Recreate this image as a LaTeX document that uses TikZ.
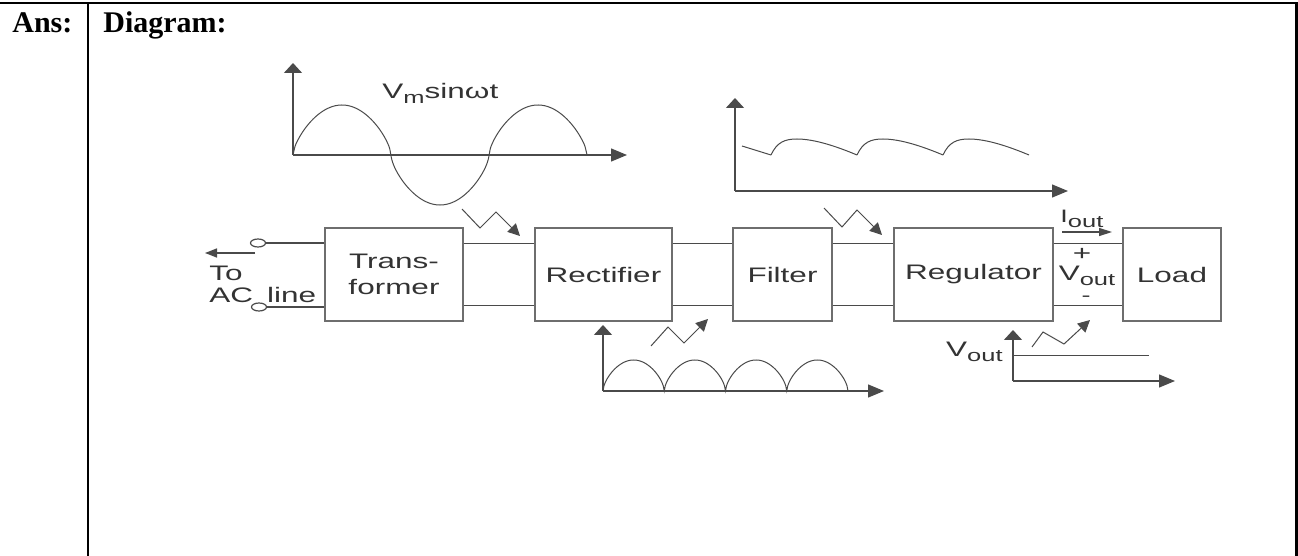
\documentclass[tikz,border=0pt]{standalone}
\usepackage{fontspec}
\setmainfont{Liberation Serif}
\newfontfamily\diagfont[FakeStretch=1.5]{Liberation Sans}
\usepackage{tikz}
\usetikzlibrary{arrows.meta,shapes.geometric}
\usepackage{xcolor}
\definecolor{boxgray}{HTML}{6E6E6E}
\definecolor{linegray}{HTML}{4A4A4A}
\definecolor{txtgray}{HTML}{333333}
\newcommand\lowsub[1]{\raisebox{-0.45ex}{\fontsize{8.5}{8.5}\selectfont #1}}

\begin{document}
\begin{tikzpicture}[x=0.5pt, y=-0.5pt, >=Stealth,
    block/.style={draw=boxgray, line width=0.9pt, minimum height=46.5pt, inner sep=0pt,
      align=center, text=txtgray, font=\diagfont\fontsize{10.5}{13}\selectfont},
    wire/.style={draw=linegray, line width=0.7pt},
    axis/.style={draw=linegray, line width=0.7pt},
    curve/.style={draw=linegray, line width=0.5pt},
    lbl/.style={inner sep=0pt, text=txtgray, font=\diagfont\fontsize{10.5}{13}\selectfont},
    term/.style={ellipse, draw=linegray, line width=0.6pt, fill=white, inner sep=0pt,
      minimum width=7.5pt, minimum height=4pt},
    htip/.style={-{Triangle[length=8pt,width=6.5pt]}},
    vtip/.style={-{Triangle[length=5pt,width=9pt]}},
    ztip/.style={-{Triangle[length=6pt,width=6pt]}}]
    \useasboundingbox (0,0) rectangle (1298,556);
    % table frame
    \draw[line width=1pt] (0,3) -- (1298,3);
    \draw[line width=1pt] (88,3) -- (88,556);
    \draw[line width=1.8pt] (1296.5,3) -- (1296.5,556);
    \node[anchor=base west, inner sep=0pt, font=\bfseries\fontsize{15}{18}\selectfont] (ans) at (12,33) {Ans:};
    \node[anchor=base west, inner sep=0pt, font=\bfseries\fontsize{15}{18}\selectfont] (head) at (103,33) {Diagram:};

    % blocks
    \node[block, minimum width=69pt] (trans) at (394,274.5) {Trans-\\former};
    \node[block, minimum width=68.5pt] (rect) at (603.5,274.5) {Rectifier};
    \node[block, minimum width=49.5pt] (filt) at (782.5,274.5) {Filter};
    \node[block, minimum width=79.5pt] (reg) at (973.5,274.5) {Regulator};
    \node[block, minimum width=49pt] (load) at (1172,274.5) {Load};

    \coordinate (up) at (0,243.5);
    \coordinate (lo) at (0,305.5);
    \foreach \a/\b in {trans/rect, rect/filt, filt/reg, reg/load} {
        \draw[wire] (\a.east |- up) -- (\b.west |- up);
        \draw[wire] (\a.east |- lo) -- (\b.west |- lo);
    }

    % AC input
    \node[term] (tin) at (258,243) {};
    \node[term] (tlo) at (259,307) {};
    \draw[wire] (tin) -- (trans.west |- tin);
    \draw[wire] (tlo) -- (trans.west |- tlo);
    \coordinate (acstart) at (255,253);
    \coordinate (acend) at (205,253);
    \draw[wire, -{Triangle[length=6pt,width=4.5pt]}] (acstart) -- (acend);
    \node[lbl, anchor=west] (to) at (209,273) {To};
    \node[lbl, anchor=west] (acline) at (209,295) {AC\hspace{7pt}line};

    % sine input
    \draw[axis, htip] (293,155) -- (627,155);
    \draw[axis, vtip] (293,155) -- (293,63);
    \draw[curve] plot[domain=0:294, samples=147, smooth]
        (293+\x, {155-50*sign(sin(\x/98*180))*(abs(sin(\x/98*180))+0.0001)^0.65});
    \node[lbl, anchor=base west] (vm) at (382,99) {V\lowsub{m}sinωt};
    \draw[curve, ztip] (462,209) -- (480,228) -- (496,212) -- (520,236);

    % rectified wave
    \draw[axis, htip] (603,391) -- (884,391);
    \draw[axis, vtip] (603,391) -- (603,325);
    \draw[curve] plot[domain=0:245, samples=241]
        (603+\x, {391-31*(abs(sin(\x/61.25*180))+0.0001)^0.6});
    \draw[curve, ztip] (651,346) -- (668,327) -- (684,343) -- (708,319);

    % filtered wave
    \draw[axis, htip] (735,191) -- (1068,191);
    \draw[axis, vtip] (735,191) -- (735,98);
    \draw[curve] (742,146) -- (771,155);
    \foreach \o in {0,86,172}
        \draw[curve] (771+\o,155) .. controls (777+\o,142) and (785+\o,139) .. (797+\o,139)
            .. controls (815+\o,139) and (838+\o,147) .. (857+\o,155);
    \draw[curve, ztip] (824,208) -- (842,227) -- (857,210) -- (882,235);

    % output side
    \node[lbl, anchor=base west, font=\diagfont\fontsize{9}{10}\selectfont] (iout) at (1060,223) {I\lowsub{out}};
    \coordinate (ioa) at (1062,232);
    \coordinate (iob) at (1112,232);
    \draw[wire, -{Triangle[length=6.5pt,width=4pt]}] (ioa) -- (iob);
    \node[lbl] (plus) at (1082,254) {+};
    \node[lbl] (vmid) at (1087,276) {V\lowsub{out}};
    \node[lbl, font=\diagfont\fontsize{9}{10}\selectfont] (minus) at (1086,299) {-};

    % regulated output
    \draw[axis, htip] (1013,381) -- (1175,381);
    \draw[axis, vtip] (1013,381) -- (1013,330);
    \draw[curve] (1013,355) -- (1149,355);
    \node[lbl, anchor=base east] (vout) at (1003,357) {V\lowsub{out}};
    \draw[curve, ztip] (1032,347) -- (1043,332) -- (1064,344) -- (1090,320);
\end{tikzpicture}
\end{document}
